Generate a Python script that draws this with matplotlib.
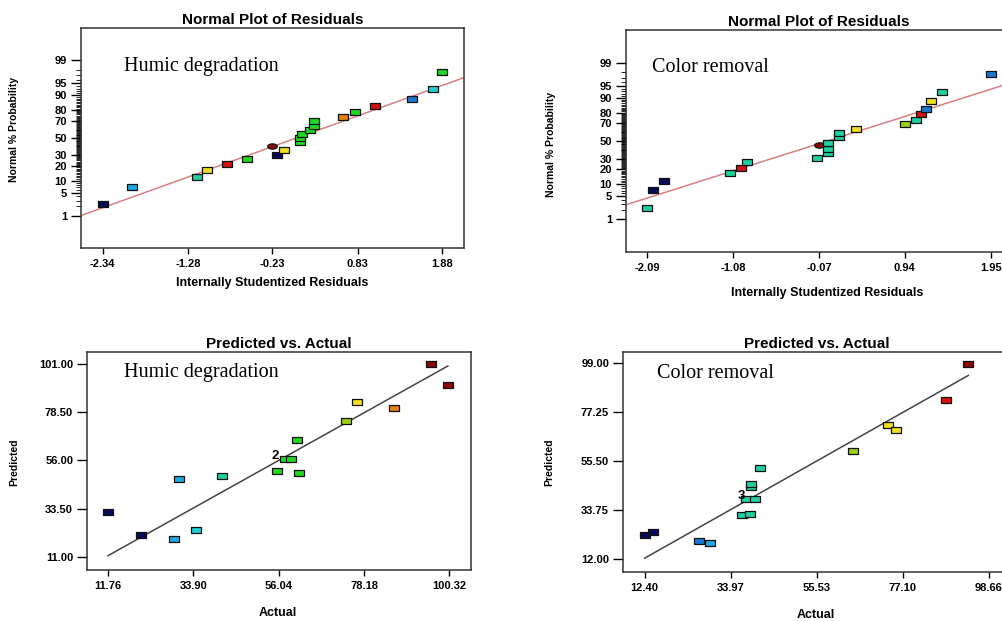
import numpy as np
import matplotlib
matplotlib.use("Agg")
import matplotlib.pyplot as plt
from statistics import NormalDist

# ---- data ----
# Normal plot, humic degradation
hum_res = [-2.34, -1.97, -1.17, -1.05, -0.80, -0.55, -0.23, -0.18, -0.09, 0.11, 0.11,
           0.135, 0.23, 0.28, 0.29, 0.645, 0.80, 1.05, 1.50, 1.76, 1.88]
hum_prob = [2.4, 7.1, 11.9, 16.7, 21.4, 26.2, 40.5, 31.0, 35.7, 45.2, 50.0,
            54.8, 59.5, 64.3, 69.0, 73.8, 78.6, 83.3, 88.1, 92.9, 97.6]
hum_line_x = [-2.61, 2.15]
hum_line_p = [1.0, 96.5]

# Normal plot, color removal
col_res = [-2.09, -2.02, -1.89, -1.12, -0.99, -0.92, -0.09, 0.04, 0.04, -0.07, 0.04,
           0.165, 0.165, 0.37, 0.94, 1.07, 1.13, 1.19, 1.25, 1.38, 1.95]
col_prob = [2.4, 7.1, 11.9, 16.7, 21.4, 26.2, 31.0, 35.7, 40.5, 45.2, 47.6,
            54.8, 59.5, 64.3, 69.0, 73.8, 78.6, 83.3, 88.1, 92.9, 97.6]
col_line_x = [-2.34, 2.20]
col_line_p = [2.9, 95.9]

# Predicted vs actual, humic degradation
hum_act = [11.76, 20.2, 28.8, 30.1, 34.7, 41.4, 55.5, 57.6, 59.2, 60.7, 61.4,
           73.6, 76.4, 85.95, 95.6, 99.9]
hum_pred = [32.0, 21.2, 19.35, 47.3, 23.5, 48.6, 50.9, 56.6, 56.6, 65.3, 50.1,
            74.2, 83.1, 80.4, 100.7, 91.1]

# Predicted vs actual, color removal
col_act = [12.4, 14.5, 25.9, 28.8, 36.8, 38.9, 37.9, 40.15, 39.1, 39.1, 41.2,
           64.5, 73.4, 75.4, 87.8, 93.5]
col_pred = [22.6, 23.8, 20.0, 19.2, 31.5, 31.9, 38.7, 38.7, 43.85, 45.2, 52.25,
            60.1, 71.6, 69.4, 82.5, 98.7]

# point colours (Design-Expert style)
NAVY, BLUE, LBLUE, CYAN, TEAL = "#0a0a5a", "#1878d0", "#20a8e0", "#20d0d0", "#20d0a0"
GREEN, YGREEN, YELLOW, ORANGE = "#20d820", "#98d010", "#f0e020", "#e88010"
RED, DRED = "#d81010", "#8a0a0a"

hum_res_col = [NAVY, LBLUE, TEAL, YELLOW, RED, GREEN, DRED, NAVY, YELLOW, GREEN, GREEN,
               GREEN, GREEN, GREEN, GREEN, ORANGE, GREEN, RED, BLUE, CYAN, GREEN]
col_res_col = [TEAL, NAVY, NAVY, TEAL, RED, TEAL, TEAL, TEAL, TEAL, DRED, TEAL,
               TEAL, TEAL, YELLOW, YGREEN, TEAL, RED, BLUE, YELLOW, TEAL, BLUE]
hum_pa_col = [NAVY, NAVY, LBLUE, LBLUE, CYAN, TEAL, GREEN, GREEN, GREEN, GREEN, GREEN,
              YGREEN, YELLOW, ORANGE, DRED, DRED]
col_pa_col = [NAVY, NAVY, BLUE, LBLUE, TEAL, TEAL, TEAL, TEAL, TEAL, TEAL, TEAL,
              YGREEN, YELLOW, YELLOW, RED, DRED]

# ---- figure ----
W, H = 1003, 621
fig = plt.figure(figsize=(W / 100, H / 100), dpi=100)
plt.rcParams['font.family'] = ['Liberation Sans', 'DejaVu Sans']

rect = [(-1, -0.57), (1, -0.57), (1, 0.57), (-1, 0.57), (-1, -0.57)]
t = np.linspace(0, 2 * np.pi, 40)
ellipse = list(zip(np.cos(t), 0.55 * np.sin(t)))

nd = NormalDist()
def fwd(p):
    p = np.clip(np.asarray(p, dtype=float) / 100, 1e-9, 1 - 1e-9)
    return np.vectorize(nd.inv_cdf)(p)
def inv(z):
    return 100 * np.vectorize(nd.cdf)(np.asarray(z, dtype=float))


def px_axes(l, t_, r, b):
    return fig.add_axes([l / W, 1 - b / H, (r - l) / W, (b - t_) / H])


def put(x, y, s, **kw):
    fig.text(x / W, 1 - y / H, s, **kw)


def style(ax, title):
    for sp in ax.spines.values():
        sp.set_linewidth(1.1)
        sp.set_color("#333333")
    ax.set_title(title, fontsize=11, fontweight="bold", pad=3)
    ax.tick_params(axis="x", length=4, width=1, labelsize=8, pad=4)
    ax.tick_params(axis="y", which="major", length=7, width=1, labelsize=8, pad=3)
    ax.tick_params(axis="y", which="minor", length=3.5, width=0.6)
    for lb in ax.get_xticklabels() + ax.get_yticklabels():
        lb.set_fontweight("bold")


def scatter(ax, xs, ys, cols, special=None):
    for i, (x, y, c) in enumerate(zip(xs, ys, cols)):
        m = ellipse if special == i else rect
        ax.plot(x, y, marker=m, ms=6.9 if special == i else 6.7, mfc=c,
                mec="#111111", mew=0.9, ls="none", zorder=3)


def normal_panel(box, res, prob, cols, lx, lp, xt, xlim, special):
    ax = px_axes(*box)
    ax.set_yscale("function", functions=(fwd, inv))
    ax.plot(lx, lp, color="#d88080", lw=1.1, zorder=2)
    scatter(ax, res, prob, cols, special)
    ax.set_xlim(*xlim)
    ax.set_ylim(inv(-3.3), inv(3.3))
    ax.set_xticks(xt)
    ax.set_xticklabels([f"{v:.2f}" for v in xt])
    major = [1, 5, 10, 20, 30, 50, 70, 80, 90, 95, 99]
    ax.set_yticks(major)
    ax.set_yticklabels([str(v) for v in major])
    ax.set_yticks([v for v in range(1, 100) if v not in major], minor=True)
    style(ax, "Normal Plot of Residuals")
    return ax


def pa_panel(box, act, pred, cols, xt, xlim, yt, ylim):
    ax = px_axes(*box)
    ax.plot([min(act), max(act)], [min(act), max(act)], color="#444444", lw=1.1, zorder=2)
    scatter(ax, act, pred, cols)
    ax.set_xlim(*xlim)
    ax.set_ylim(*ylim)
    ax.set_xticks(xt)
    ax.set_xticklabels([f"{v:.2f}" for v in xt])
    ax.set_yticks(yt)
    ax.set_yticklabels([f"{v:.2f}" for v in yt])
    style(ax, "Predicted vs. Actual")
    return ax


normal_panel((81, 28, 464, 248), hum_res, hum_prob, hum_res_col, hum_line_x, hum_line_p,
             [-2.34, -1.28, -0.23, 0.83, 1.88], (-2.61, 2.15), 6)
normal_panel((626, 30, 1012, 252), col_res, col_prob, col_res_col, col_line_x, col_line_p,
             [-2.09, -1.08, -0.07, 0.94, 1.95], (-2.34, 2.20), 9)

ax3 = pa_panel((87, 352, 471, 570), hum_act, hum_pred, hum_pa_col,
               [11.76, 33.90, 56.04, 78.18, 100.32], (6.31, 105.9),
               [11.0, 33.5, 56.0, 78.5, 101.0], (5.1, 106.4))
ax3.text(55.0, 58.0, "2", fontsize=9.5, fontweight="bold", ha="center", va="center", zorder=4)
ax4 = pa_panel((623, 352, 1011, 572), col_act, col_pred, col_pa_col,
               [12.40, 33.97, 55.53, 77.10, 98.66], (6.96, 104.2),
               [12.0, 33.75, 55.5, 77.25, 99.0], (6.25, 103.9))
ax4.text(36.7, 40.0, "3", fontsize=9.5, fontweight="bold", ha="center", va="center", zorder=4)

# in-plot captions
serif = dict(fontsize=14.5, family=["Liberation Serif", "DejaVu Serif"], va="center", ha="left")
put(124, 67, "Humic degradation", **serif)
put(652, 67, "Color removal", **serif)
put(124, 373, "Humic degradation", **serif)
put(657, 374, "Color removal", **serif)

# axis labels
xl = dict(fontsize=9, fontweight="bold", ha="center", va="center")
yl = dict(fontsize=7.5, fontweight="bold", ha="center", va="center", rotation=90)
put(272, 283, "Internally Studentized Residuals", **xl)
put(827, 293, "Internally Studentized Residuals", **xl)
put(278, 613, "Actual", **xl)
put(816, 615, "Actual", **xl)
put(14, 129, "Normal % Probability", **yl)
put(551, 144, "Normal % Probability", **yl)
put(14, 462, "Predicted", **yl)
put(549, 462, "Predicted", **yl)

fig.savefig("out.png", dpi=100)
